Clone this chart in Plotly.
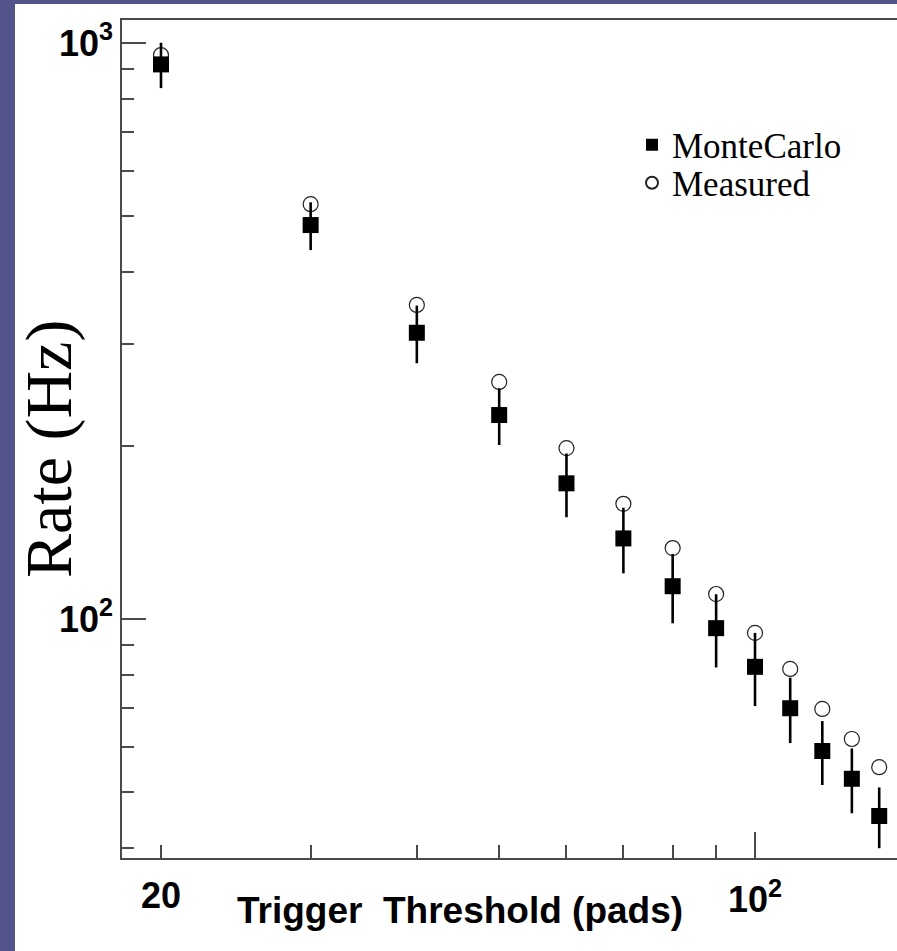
import numpy as np
import plotly.graph_objects as go

# ---- data ----
threshold = [20, 30, 40, 50, 60, 70, 80, 90, 100, 110, 120, 130, 140]
mc_rate = [918, 483, 314, 226, 172, 138, 114, 96.4, 82.6, 70.0, 59.0, 52.8, 45.5]
mc_err = [83, 46, 36, 25.5, 21.8, 18, 15.7, 14, 12, 9.1, 7.5, 6.8, 5.5]
meas_rate = [953, 525, 351, 258, 198, 158.5, 132.8, 110.5, 94.6, 81.9, 69.8, 61.9, 55.3]

x_major = [100]
x_major_text = ["10<sup>2</sup>"]
x_minor = [20, 30, 40, 50, 60, 70, 80, 90]
x_first_label = 20
y_major = [100, 1000]
y_major_text = ["10<sup>2</sup>", "10<sup>3</sup>"]
y_minor = [40, 50, 60, 70, 80, 90, 200, 300, 400, 500, 600, 700, 800, 900]

W, H = 897, 951
ML, MR, MT, MB = 122, 0, 20, 93
PW, PH = W - ML - MR, H - MT - MB


def px_x(px):
    return (px - ML) / PW


def px_y(py):
    return (H - MB - py) / PH


SANS = "Liberation Sans, Arial, Helvetica, sans-serif"
SERIF = "Liberation Serif, Times New Roman, serif"
AXC = "#4a4a4a"
BLUE = "#53558a"

fig = go.Figure()

fig.add_trace(go.Scatter(
    x=threshold, y=meas_rate, mode="markers", name="Measured",
    legend="legend2",
    marker=dict(symbol="circle-open", size=15, color="#222222",
                line=dict(width=1.2, color="#222222")),
))
fig.add_trace(go.Scatter(
    x=threshold, y=mc_rate, mode="markers", name="MonteCarlo",
    legend="legend",
    marker=dict(symbol="square", size=16, color="black"),
    error_y=dict(type="data", array=mc_err, visible=True,
                 thickness=2.6, width=0, color="black"),
))

leg_common = dict(
    xanchor="left", yanchor="middle",
    font=dict(family=SERIF, size=35, color="black"),
    bgcolor="rgba(0,0,0,0)", itemsizing="constant",
)

fig.update_layout(
    width=W, height=H,
    margin=dict(l=ML, r=MR, t=MT, b=MB, pad=0),
    paper_bgcolor="white",
    plot_bgcolor="white",
    showlegend=True,
    legend=dict(x=px_x(632), y=px_y(145), **leg_common),
    legend2=dict(x=px_x(632), y=px_y(183), **leg_common),
    xaxis=dict(
        type="log",
        range=[1.25515, 2.16706],
        showgrid=False, zeroline=False,
        showline=True, linecolor=AXC, linewidth=1.5, mirror=True,
        ticks="inside", ticklen=26, tickwidth=1.5, tickcolor=AXC,
        tickmode="array", tickvals=x_major, ticktext=x_major_text,
        tickfont=dict(family=SANS, size=36, color="black", weight="bold"),
        ticklabelstandoff=9,
        minor=dict(tickmode="array", tickvals=x_minor, ticks="inside",
                   ticklen=13, tickwidth=1.5, tickcolor=AXC, showgrid=False),
    ),
    yaxis=dict(
        type="log",
        range=[1.58507, 3.03993],
        showgrid=False, zeroline=False,
        showline=True, linecolor=AXC, linewidth=1.5, mirror=False,
        ticks="inside", ticklen=24, tickwidth=1.5, tickcolor=AXC,
        tickmode="array", tickvals=y_major, ticktext=y_major_text,
        tickfont=dict(family=SANS, size=36, color="black", weight="bold"),
        ticklabelstandoff=0,
        minor=dict(tickmode="array", tickvals=y_minor, ticks="inside",
                   ticklen=12, tickwidth=1.5, tickcolor=AXC, showgrid=False),
    ),
)

# slide background strips (blue) at top and left
fig.add_shape(type="rect", xref="paper", yref="paper",
              x0=px_x(0), x1=px_x(15), y0=px_y(H), y1=px_y(0),
              fillcolor=BLUE, line=dict(width=0), layer="above")
fig.add_shape(type="rect", xref="paper", yref="paper",
              x0=px_x(0), x1=px_x(W), y0=px_y(4), y1=px_y(0),
              fillcolor=BLUE, line=dict(width=0), layer="above")

# "20" tick label on the x axis
fig.add_annotation(
    x=np.log10(x_first_label), xref="x", y=px_y(895), yref="paper",
    text=str(x_first_label), showarrow=False, xanchor="center", yanchor="middle",
    font=dict(family=SANS, size=36, color="black", weight="bold"),
)
# axis titles
fig.add_annotation(
    x=px_x(459.5), y=px_y(911), xref="paper", yref="paper",
    text="Trigger\u00a0 Threshold (pads)", showarrow=False,
    xanchor="center", yanchor="middle",
    font=dict(family=SANS, size=37, color="black", weight="bold"),
)
fig.add_annotation(
    x=px_x(49), y=px_y(449), xref="paper", yref="paper",
    text="Rate (Hz)", showarrow=False, textangle=-90,
    xanchor="center", yanchor="middle",
    font=dict(family=SERIF, size=66, color="black"),
)

fig.write_html("out.html", config={"displayModeBar": False},
               post_script="document.body.style.margin='0px';")
